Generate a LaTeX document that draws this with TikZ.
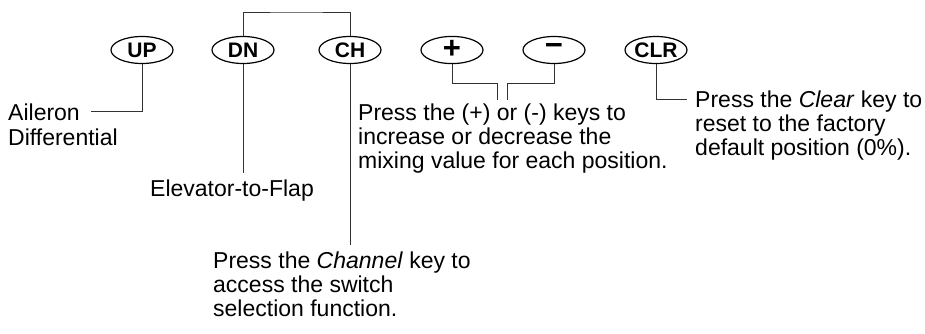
\documentclass[tikz,border=0pt]{standalone}
\usepackage{fontspec}
\setmainfont{Liberation Sans}
\usetikzlibrary{shapes.geometric}
\definecolor{linegray}{HTML}{333333}
\tikzset{
  keybox/.style={draw=black, line width=1.2pt, ellipse, minimum width=62pt, minimum height=27pt, inner sep=0pt, font=\fontsize{21}{22}\selectfont\bfseries},
  symkey/.style={keybox, font=\fontsize{31}{31}\selectfont\bfseries},
  lbl/.style={inner sep=0pt, align=left, font=\fontsize{23}{24}\selectfont},
  conn/.style={draw=linegray, line width=1pt}
}
\begin{document}
\begin{tikzpicture}[x=1pt,y=-1pt]
\useasboundingbox[fill=white] (0,0) rectangle (925,333);
% keys
\node[keybox] (up)  at (142,50) {UP};
\node[keybox] (dn)  at (243,50) {DN};
\node[keybox] (ch)  at (350,50) {CH};
\node[symkey] (plus) at (452,50) {\raisebox{1pt}{+}};
\node[symkey] (minus) at (554,50) {\raisebox{1pt}{−}};
\node[keybox] (clr) at (656,50) {CLR};
% labels
\node[lbl, anchor=base west] (ail) at (8,120) {Aileron};
\node[lbl, anchor=base west] (diff) at (8,145) {Differential};
\node[lbl, anchor=base west] (elev) at (150,196) {Elevator-to-Flap};
\node[lbl, anchor=north west] (chan) at (213,252) {Press the \textit{Channel} key to\\access the switch\\selection function.};
\node[lbl, anchor=north west] (pm) at (358,104) {Press the (+) or (-) keys to\\increase or decrease the\\mixing value for each position.};
\node[lbl, anchor=north west] (clrt) at (695,91) {Press the \textit{Clear} key to\\reset to the factory\\default position (0\%).};
% connectors
\coordinate (ailend) at (91,111);
\draw[conn] (ailend) -| (up.south);
\coordinate (brk) at (296,12);
\draw[conn] (dn.north) |- (brk) -| (ch.north);
\coordinate (dnend) at (243,173);
\draw[conn] (dn.south) -- (dnend);
\coordinate (chend) at (350,245);
\draw[conn] (ch.south) -- (chend);
\coordinate (pmid) at (497,83);
\coordinate (pend) at (497,100);
\draw[conn] (plus.south) |- (pmid) -- (pend);
\coordinate (mmid) at (507,83);
\coordinate (mend) at (507,100);
\draw[conn] (minus.south) |- (mmid) -- (mend);
\coordinate (clrend) at (687,99);
\draw[conn] (clr.south) |- (clrend);
\end{tikzpicture}
\end{document}
